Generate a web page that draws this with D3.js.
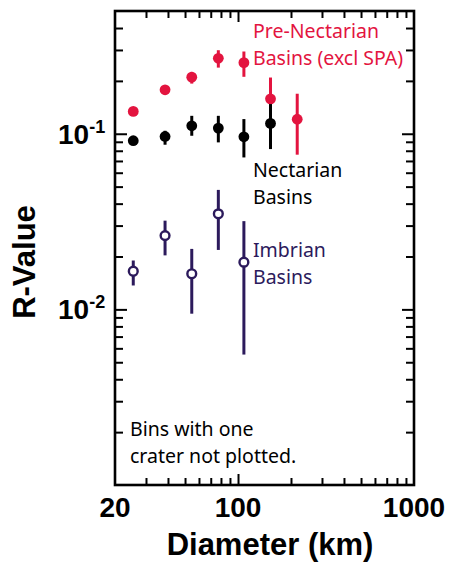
<!DOCTYPE html>
<html>
<head>
<meta charset="utf-8">
<script src="https://cdn.jsdelivr.net/npm/d3@7"></script>
<style>
  body { margin: 0; background: #fff; }
  svg text { font-family: "Liberation Sans", Arial, sans-serif; }
  .note { font-family: "Noto Sans", sans-serif; font-size: 19.5px; }
</style>
</head>
<body>
<div id="chart"></div>
<script>
// bin centre diameters (km)
const diameters = [25.4, 38.5, 54.6, 77.3, 108, 153, 217];

// Pre-Nectarian basins (excl SPA)
const preNectR  = [0.134, 0.178, 0.210, 0.269, 0.254, 0.158, 0.121];
const preNectLo = [0.129, 0.171, 0.193, 0.238, 0.211, 0.110, 0.076];
const preNectHi = [0.139, 0.186, 0.225, 0.299, 0.294, 0.209, 0.169];

// Nectarian basins
const nectR  = [0.0913, 0.0965, 0.111, 0.1077, 0.0961, 0.1145];
const nectLo = [0.0875, 0.0866, 0.0974, 0.0893, 0.0733, 0.0818];
const nectHi = [0.0952, 0.104, 0.1265, 0.1265, 0.1212, 0.1476];

// Imbrian basins
const imbR  = [0.0165, 0.0263, 0.01595, 0.0350, 0.01857];
const imbLo = [0.01368, 0.0203, 0.00945, 0.0218, 0.00553];
const imbHi = [0.01898, 0.0320, 0.0221, 0.0479, 0.0318];

const xTicks = [20, 100, 1000];
const yTicks = [0.1, 0.01];

const W = 451, H = 568;
const margin = { top: 11, right: 37, bottom: 83, left: 115 };

const svg = d3.select("#chart").append("svg")
    .attr("width", W)
    .attr("height", H);

const x = d3.scaleLog().domain([20, 1000]).range([margin.left, W - margin.right]);
const y = d3.scaleLog().domain([0.001, 0.5]).range([H - margin.bottom, margin.top]);

const x0 = x.range()[0], x1 = x.range()[1];
const y0 = y.range()[0], y1 = y.range()[1];

// minor / major tick values
const xMinor = [30, 40, 50, 60, 70, 80, 90, 200, 300, 400, 500, 600, 700, 800, 900];
const xMajor = [100];
const yMinor = [];
[0.001, 0.01, 0.1].forEach(d => {
    for (let k = 2; k <= 9; k++) if (d * k < 0.5) yMinor.push(d * k);
});

function ticks(axisFn, scale, values, len, pos) {
    const g = svg.append("g")
        .attr("transform", pos)
        .call(axisFn(scale).tickValues(values).tickSize(-len).tickFormat(""));
    g.select(".domain").remove();
    g.selectAll("line").attr("stroke", "#000").attr("stroke-width", 2);
}

ticks(d3.axisBottom, x, xMinor, 7, `translate(0,${y0})`);
ticks(d3.axisBottom, x, xMajor, 11, `translate(0,${y0})`);
ticks(d3.axisTop, x, xMinor, 7, `translate(0,${y1})`);
ticks(d3.axisTop, x, xMajor, 11, `translate(0,${y1})`);
ticks(d3.axisLeft, y, yMinor, 8, `translate(${x0},0)`);
ticks(d3.axisLeft, y, yTicks, 12, `translate(${x0},0)`);
ticks(d3.axisRight, y, yMinor, 8, `translate(${x1},0)`);
ticks(d3.axisRight, y, yTicks, 12, `translate(${x1},0)`);

// frame
svg.append("rect")
    .attr("x", x0).attr("y", y1)
    .attr("width", x1 - x0).attr("height", y0 - y1)
    .attr("fill", "none").attr("stroke", "#000").attr("stroke-width", 2.6);

// tick labels
svg.selectAll(".xlab")
    .data(xTicks)
    .enter().append("text")
    .attr("x", d => x(d))
    .attr("y", y0 + 32)
    .attr("text-anchor", "middle")
    .style("font-size", "28px")
    .style("font-weight", "bold")
    .text(d => d);

const ylab = svg.selectAll(".ylab")
    .data(yTicks)
    .enter().append("text")
    .attr("x", 58)
    .attr("y", d => y(d) + 10)
    .style("font-size", "28px")
    .style("font-weight", "bold");
ylab.append("tspan").text("10");
ylab.append("tspan")
    .attr("dy", -11)
    .style("font-size", "18px")
    .text(d => "-" + Math.round(-Math.log10(d)));

// axis titles
svg.append("text")
    .attr("x", 270).attr("y", 555)
    .attr("text-anchor", "middle")
    .style("font-size", "31px")
    .style("font-weight", "bold")
    .text("Diameter (km)");

svg.append("text")
    .attr("transform", "translate(35,262) rotate(-90)")
    .attr("text-anchor", "middle")
    .style("font-size", "31px")
    .style("font-weight", "bold")
    .text("R-Value");

// series
const series = [
    { r: preNectR, lo: preNectLo, hi: preNectHi, color: "#e3143f", open: false },
    { r: nectR, lo: nectLo, hi: nectHi, color: "#000000", open: false },
    { r: imbR, lo: imbLo, hi: imbHi, color: "#2c1a5c", open: true }
];

series.forEach(s => {
    const pts = s.r.map((v, i) => ({ d: diameters[i], r: v, lo: s.lo[i], hi: s.hi[i] }));
    const g = svg.append("g");
    g.selectAll("line")
        .data(pts)
        .enter().append("line")
        .attr("x1", d => x(d.d)).attr("x2", d => x(d.d))
        .attr("y1", d => y(d.lo)).attr("y2", d => y(d.hi))
        .attr("stroke", s.color)
        .attr("stroke-width", 3);
    g.selectAll("circle")
        .data(pts)
        .enter().append("circle")
        .attr("cx", d => x(d.d))
        .attr("cy", d => y(d.r))
        .attr("r", s.open ? 4.4 : 5.4)
        .attr("fill", s.open ? "#fff" : s.color)
        .attr("stroke", s.open ? s.color : "none")
        .attr("stroke-width", 2.4);
});

// labels
function label(lines, xPos, yPos, color) {
    const t = svg.append("text")
        .attr("class", "note")
        .attr("fill", color);
    lines.forEach((l, i) => {
        t.append("tspan").attr("x", xPos).attr("y", yPos + i * 27).text(l);
    });
}

label(["Pre-Nectarian", "Basins (excl SPA)"], 253, 38, "#e3143f");
label(["Nectarian", "Basins"], 253, 177, "#000");
label(["Imbrian", "Basins"], 253, 257, "#2c1a5c");
label(["Bins with one", "crater not plotted."], 130, 436, "#000");
</script>
</body>
</html>
